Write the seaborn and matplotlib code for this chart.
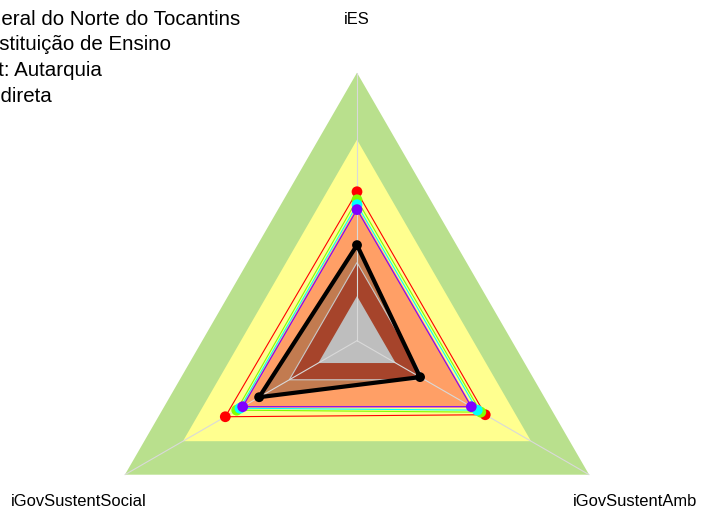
import numpy as np
import pandas as pd
import matplotlib
matplotlib.use("Agg")
import matplotlib.pyplot as plt
import seaborn as sns

# axes of the radar (first at top, then counter-clockwise)
eixos = ["iES", "iGovSustentSocial", "iGovSustentAmb"]

# background bands (index thresholds) and their fill colours
faixas = [1.0, 0.7, 0.4, 0.15, 0.0]
faixa_cores = ["#B9E08D", "#FFFF8F", "#FF9F66", "#A6442B", "#BEBEBE"]

# series values, in the order of eixos
serie_nomes = ["vermelho", "verde", "ciano", "roxo"]
serie_cores = ["#FF0000", "#80FF00", "#00FFFF", "#8000FF"]
vermelho = [0.467, 0.481, 0.463]
verde = [0.431, 0.422, 0.440]
ciano = [0.409, 0.405, 0.422]
roxo = [0.387, 0.391, 0.391]
orgao = [0.228, 0.306, 0.126]

titulo = ["Instituto Federal do Norte do Tocantins",
          "Segment: Instituição de Ensino",
          "Subsegment: Autarquia",
          "Category: Indireta"]

sns.set_theme(style="white")
plt.rcParams["font.family"] = ["Liberation Sans", "DejaVu Sans"]

angulos = np.deg2rad([90, 210, 330])


def radar_xy(vals):
    # fmsb style scale: 5 segments with a centre gap of one segment
    r = 1 / 6 + 5 / 6 * np.asarray(vals, dtype=float)
    return r * np.cos(angulos), r * np.sin(angulos)


fig = plt.figure(figsize=(7.01, 5.13), dpi=100)
ax = fig.add_axes([0, 0, 1, 1])
R = 268.0
ax.set_xlim(-357 / R, (701 - 357) / R)
ax.set_ylim(-(513 - 340.7) / R, 340.7 / R)
ax.axis("off")

# bands
for i, (nivel, cor) in enumerate(zip(faixas, faixa_cores)):
    x, y = radar_xy([nivel] * 3)
    if nivel == 0.15:
        # fill of the organisation polygon sits under the darker bands
        ox, oy = radar_xy(orgao)
        ax.fill(ox, oy, facecolor="#C27B50", edgecolor="none", zorder=1)
        ax.fill(x, y, facecolor=cor, edgecolor="#C8C8C8", lw=0.8, zorder=2)
    else:
        ax.fill(x, y, facecolor=cor, edgecolor="none", zorder=1 if nivel > 0.15 else 2)

# axis lines
for a in angulos:
    ax.plot([0, np.cos(a)], [0, np.sin(a)], color="#D9D9D9", lw=0.8, zorder=3)

# series
series = [vermelho, verde, ciano, roxo]
linhas = []
for nome, vals in zip(serie_nomes, series):
    x, y = radar_xy(vals)
    for e, xi, yi in zip(eixos, x, y):
        linhas.append({"serie": nome, "eixo": e, "x": xi, "y": yi})
df = pd.DataFrame(linhas)

for k, (nome, cor, vals) in enumerate(zip(serie_nomes, serie_cores, series)):
    x, y = radar_xy(vals)
    ax.fill(x, y, facecolor="none", edgecolor=cor, lw=0.8, zorder=4 + k)
    sns.scatterplot(data=df[df["serie"] == nome], x="x", y="y", color=cor,
                    s=60, edgecolor="none", legend=False, ax=ax, zorder=4 + k)

ox, oy = radar_xy(orgao)
ax.fill(ox, oy, facecolor="none", edgecolor="black", lw=3, zorder=10)
df_org = pd.DataFrame({"eixo": eixos, "x": ox, "y": oy})
sns.scatterplot(data=df_org, x="x", y="y", color="black", s=50,
                edgecolor="none", legend=False, ax=ax, zorder=11)
ax.set_xlabel("")
ax.set_ylabel("")

# axis labels
for nome, a in zip(eixos, angulos):
    ax.text(1.2 * np.cos(a), 1.2 * np.sin(a), nome, ha="center", va="center",
            fontsize=11.9, color="black")

# title block, clipped on the left like the original
for i, linha in enumerate(titulo):
    fig.text(-111 / 701, 1 - (25 + 25.5 * i) / 513, linha, ha="left",
             va="baseline", fontsize=14.8, color="black")

fig.savefig("out.png", dpi=100)
